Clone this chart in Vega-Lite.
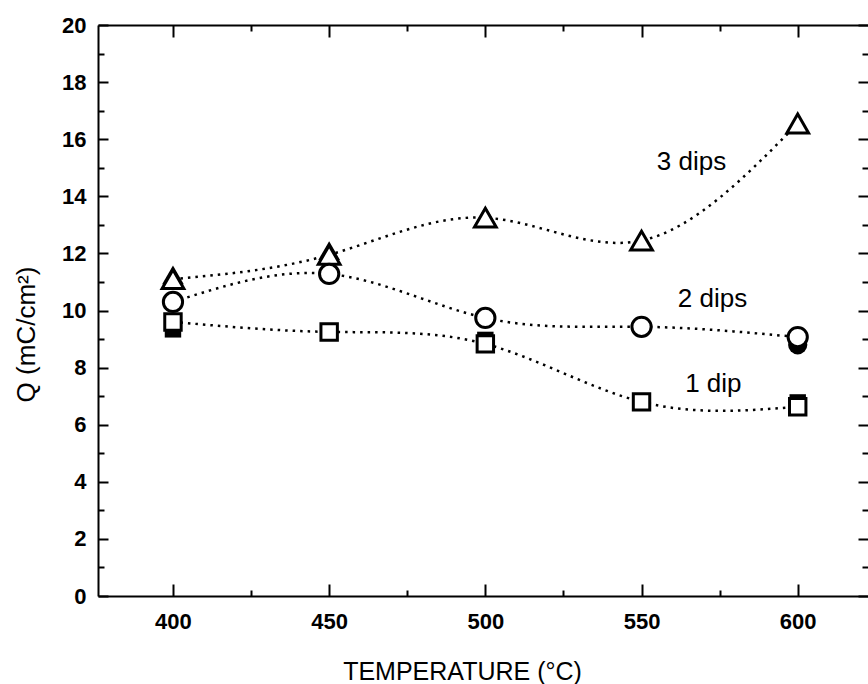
{
  "$schema": "https://vega.github.io/schema/vega-lite/v6.json",
  "width": 770,
  "height": 571,
  "autosize": "none",
  "padding": {"left": 98, "top": 25, "right": 0, "bottom": 88},
  "background": "white",
  "config": {
    "view": {"stroke": null},
    "font": "Liberation Sans",
    "axis": {
      "grid": false,
      "domainColor": "black",
      "domainWidth": 2,
      "tickColor": "black",
      "tickWidth": 2,
      "labelColor": "black",
      "titleColor": "black",
      "labelFont": "Liberation Sans",
      "titleFont": "Liberation Sans",
      "labelFontSize": 22,
      "labelFontWeight": "bold",
      "titleFontSize": 25,
      "titleFontWeight": "normal",
      "labelOverlap": false
    }
  },
  "datasets": {
    "open": [
      {"T": 400, "Q": 11.1, "series": "3 dips"},
      {"T": 450, "Q": 11.95, "series": "3 dips"},
      {"T": 500, "Q": 13.25, "series": "3 dips"},
      {"T": 550, "Q": 12.45, "series": "3 dips"},
      {"T": 600, "Q": 16.55, "series": "3 dips"},
      {"T": 400, "Q": 10.3, "series": "2 dips"},
      {"T": 450, "Q": 11.28, "series": "2 dips"},
      {"T": 500, "Q": 9.74, "series": "2 dips"},
      {"T": 550, "Q": 9.43, "series": "2 dips"},
      {"T": 600, "Q": 9.07, "series": "2 dips"},
      {"T": 400, "Q": 9.6, "series": "1 dip"},
      {"T": 450, "Q": 9.25, "series": "1 dip"},
      {"T": 500, "Q": 8.83, "series": "1 dip"},
      {"T": 550, "Q": 6.8, "series": "1 dip"},
      {"T": 600, "Q": 6.63, "series": "1 dip"}
    ],
    "filled": [
      {"T": 400, "Q": 11.25, "series": "3 dips"},
      {"T": 450, "Q": 12.1, "series": "3 dips"},
      {"T": 500, "Q": 13.32, "series": "3 dips"},
      {"T": 550, "Q": 12.5, "series": "3 dips"},
      {"T": 600, "Q": 8.8, "series": "2 dips"},
      {"T": 400, "Q": 9.34, "series": "1 dip"},
      {"T": 500, "Q": 8.97, "series": "1 dip"},
      {"T": 600, "Q": 6.78, "series": "1 dip"}
    ],
    "labels": [
      {"T": 566, "Q": 14.92, "text": "3 dips"},
      {"T": 572.7, "Q": 10.13, "text": "2 dips"},
      {"T": 573, "Q": 7.16, "text": "1 dip"}
    ]
  },
  "resolve": {"axis": {"x": "independent", "y": "independent"}},
  "layer": [
    {
      "data": {"name": "open"},
      "mark": {"type": "line", "interpolate": "natural", "color": "black", "strokeWidth": 2.5, "strokeDash": [2.5, 5]},
      "encoding": {
        "x": {
          "field": "T", "type": "quantitative",
          "scale": {"domain": [376, 622.5], "nice": false, "zero": false},
          "axis": {
            "orient": "bottom",
            "values": [400, 425, 450, 475, 500, 525, 550, 575, 600],
            "labelExpr": "datum.value % 50 === 0 ? datum.label : ''",
            "tickSize": {"condition": {"test": "datum.value % 50 === 0", "value": -12}, "value": -6},
            "labelPadding": 27,
            "title": "TEMPERATURE (°C)",
            "titleX": 364,
            "titleY": 83,
            "titleAlign": "center",
            "titleBaseline": "alphabetic"
          }
        },
        "y": {
          "field": "Q", "type": "quantitative",
          "scale": {"domain": [0, 20], "nice": false, "zero": true},
          "axis": {
            "orient": "left",
            "values": [0,1,2,3,4,5,6,7,8,9,10,11,12,13,14,15,16,17,18,19,20],
            "labelExpr": "datum.value % 2 === 0 ? datum.label : ''",
            "tickSize": {"condition": {"test": "datum.value % 2 === 0", "value": -10}, "value": -6},
            "labelPadding": 22,
            "title": "Q (mC/cm²)",
            "titleFontSize": 26,
            "titleX": -64,
            "titleY": 309,
            "titleAlign": "center",
            "titleBaseline": "alphabetic",
            "titleAngle": 270
          }
        },
        "detail": {"field": "series"}
      }
    },
    {
      "data": {"name": "filled"},
      "mark": {"type": "point", "filled": true, "color": "black", "opacity": 1},
      "encoding": {
        "x": {
          "field": "T", "type": "quantitative",
          "axis": {
            "orient": "top",
            "values": [400, 425, 450, 475, 500, 525, 550, 575, 600],
            "labels": false,
            "title": null,
            "tickSize": {"condition": {"test": "datum.value % 50 === 0", "value": -12}, "value": -6}
          }
        },
        "y": {
          "field": "Q", "type": "quantitative",
          "axis": {
            "orient": "right",
            "values": [0,1,2,3,4,5,6,7,8,9,10,11,12,13,14,15,16,17,18,19,20],
            "labels": false,
            "title": null,
            "domain": false,
            "tickSize": {"condition": {"test": "datum.value % 2 === 0", "value": -10}, "value": -6}
          }
        },
        "shape": {"field": "series", "type": "nominal", "scale": {"domain": ["3 dips", "2 dips", "1 dip"], "range": ["triangle-up", "circle", "square"]}, "legend": null},
        "size": {"field": "series", "type": "nominal", "scale": {"domain": ["3 dips", "2 dips", "1 dip"], "range": [470, 270, 250]}, "legend": null}
      }
    },
    {
      "data": {"name": "open"},
      "mark": {"type": "point", "filled": false, "fill": "white", "stroke": "black", "strokeWidth": 3, "opacity": 1, "fillOpacity": 1},
      "encoding": {
        "x": {"field": "T", "type": "quantitative", "axis": null},
        "y": {"field": "Q", "type": "quantitative", "axis": null},
        "shape": {"field": "series", "type": "nominal", "scale": {"domain": ["3 dips", "2 dips", "1 dip"], "range": ["triangle-up", "circle", "square"]}, "legend": null},
        "size": {"field": "series", "type": "nominal", "scale": {"domain": ["3 dips", "2 dips", "1 dip"], "range": [380, 210, 200]}, "legend": null}
      }
    },
    {
      "data": {"name": "labels"},
      "mark": {"type": "text", "font": "Liberation Sans", "fontSize": 26, "color": "black", "align": "center", "baseline": "alphabetic"},
      "encoding": {
        "x": {"field": "T", "type": "quantitative", "axis": null},
        "y": {"field": "Q", "type": "quantitative", "axis": null},
        "text": {"field": "text"}
      }
    }
  ]
}
